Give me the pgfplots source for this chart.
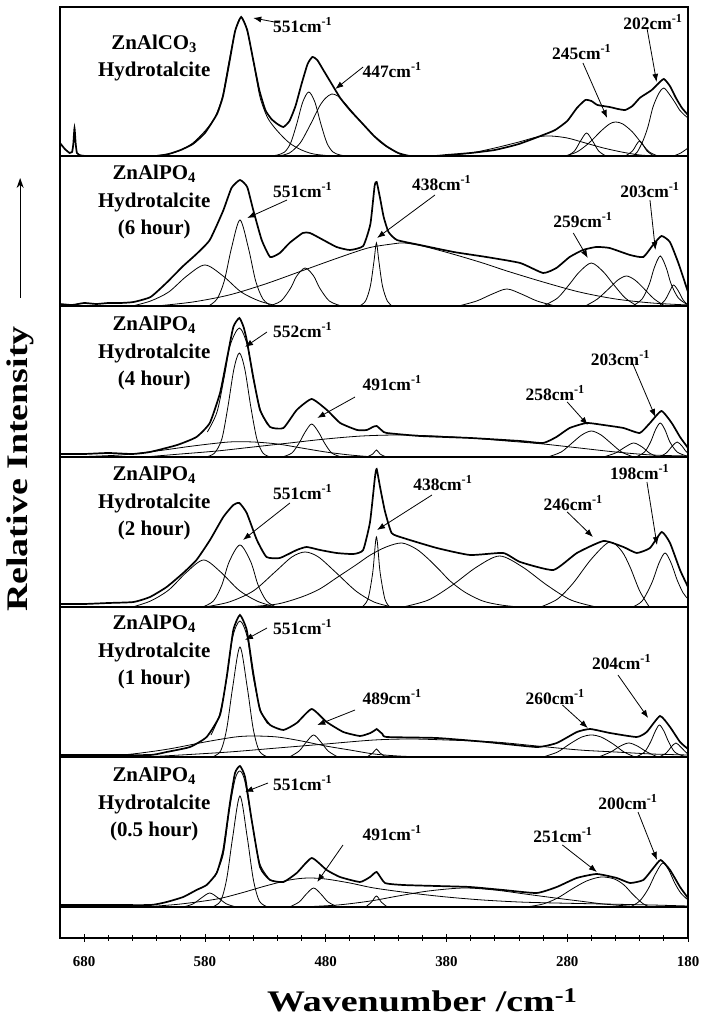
\documentclass[border=0pt]{standalone}
\usepackage{fontspec}
\setmainfont{Liberation Serif}
\usepackage{pgfplots}
\pgfplotsset{compat=1.18}
\usetikzlibrary{arrows.meta}

\pgfplotsset{
  comp/.style={black, line width=0.8bp, smooth, tension=0.5},
  meas/.style={black, line width=1.7bp, smooth, tension=0.3},
  fit/.style={black, line width=0.8bp, smooth, tension=0.5},
  base/.style={black, line width=2bp},
  P1/.style={y filter/.expression={y+782}},
  P2/.style={y filter/.expression={y+632}},
  P3/.style={y filter/.expression={y+481}},
  P4/.style={y filter/.expression={y+331}},
  P5/.style={y filter/.expression={y+181}},
  P6/.style={y filter/.expression={y+31}},
}
\tikzset{
  annot/.style={font=\fontsize{17.5}{20}\selectfont\bfseries},
  annarrow/.style={line width=0.8bp, -{Latex[length=8bp,width=6bp]}},
  plab/.style={align=center, font=\fontsize{21}{28}\selectfont\bfseries},
}
% text x, text y, label, arrow from x,y, arrow to x,y
\newcommand{\ann}[7]{%
  \node[annot] at (axis cs:#1,#2) {#3cm\textsuperscript{-1}};
  \draw[annarrow] (axis cs:#4,#5) -- (axis cs:#6,#7);}

\begin{document}
\begin{tikzpicture}
\begin{axis}[
  scale only axis, width=628bp, height=931bp,
  xmin=180, xmax=700, ymin=0, ymax=931,
  x dir=reverse,
  xtick={180,280,380,480,580,680},
  minor x tick num=4,
  xtick pos=bottom, ytick=\empty,
  tick align=center,
  major tick length=7bp, minor tick length=5bp,
  tick style={black, line width=0.8bp},
  axis line style={line width=1.2bp},
  /pgf/number format/assume math mode=true,
  xticklabel style={font=\fontsize{15}{18}\selectfont\bfseries, yshift=-12bp},
  clip=false,
]

% panel separators / baselines
\addplot[base] coordinates {(700,782) (180,782)};
\addplot[base] coordinates {(700,632) (180,632)};
\addplot[base] coordinates {(700,481) (180,481)};
\addplot[base] coordinates {(700,331) (180,331)};
\addplot[base] coordinates {(700,181) (180,181)};
\addplot[base] coordinates {(700,31) (180,31)};

% ---------------- ZnAlCO3 ----------------
\addplot[meas,P1] coordinates {(700,13) (696,7) (692,3) (690,4) (689,12) (688,28) (687,12) (686,3) (684,1) (678,0) (640,0) (620,0) (610,2) (600,6) (590,12) (580,23) (570,42) (565,60) (560,92) (555,125) (550,139) (545,126) (540,96) (535,66) (530,46) (525,37) (520,32) (515,29) (510,35) (505,50) (500,72) (495,92) (491,99) (487,96) (482,86) (475,72) (468,58) (460,46) (450,33) (440,20) (430,10) (420,3) (410,0) (390,0) (380,1) (360,3) (340,6) (320,12) (300,21) (290,26) (280,35) (272,48) (265,56) (260,55) (255,51) (245,49) (238,47) (232,46) (226,50) (220,58) (215,62) (210,66) (205,72) (200,77) (195,70) (190,58) (185,48) (180,41)};
\addplot[comp,P1] coordinates {(625,0) (610,2) (600,6) (590,13) (580,25) (572,38) (566,57) (563,75) (560,95) (555,125) (550,139) (545,125) (540,95) (537,75) (534,57) (528,38) (520,25) (510,13) (500,6) (490,2) (475,0)};
\addplot[comp,P1] coordinates {(526,0) (520,1) (514,4) (509,13) (504,32) (499,54) (494,64) (489,54) (484,32) (479,13) (474,4) (468,1) (462,0)};
\addplot[comp,P1] coordinates {(518,0) (510,3) (505,8) (500,15) (492,33) (485,50) (480,58) (475,62) (470,60) (465,54) (458,44) (450,33) (446,28) (440,20) (435,14) (425,6) (416,1) (405,0)};
\addplot[comp,P1] coordinates {(385,0) (360,3) (340,8) (320,14) (305,19) (294,20) (280,18) (265,13) (250,8) (235,4) (220,1) (205,0)};
\addplot[comp,P1] coordinates {(280,0) (274,5) (269,15) (264,23) (259,15) (254,5) (248,0)};
\addplot[comp,P1] coordinates {(282,0) (272,4) (262,13) (252,25) (245,32) (240,34) (234,32) (226,24) (218,12) (212,4) (205,0)};
\addplot[comp,P1] coordinates {(232,0) (226,5) (220,15) (214,5) (208,0)};
\addplot[comp,P1] coordinates {(226,0) (222,4) (217,16) (213,30) (209,49) (204,63) (200,68) (195,61) (190,52) (187,46) (183,41) (180,38)};
\addplot[comp,P1] coordinates {(192,0) (186,3) (180,8)};

% ---------------- ZnAlPO4 6 hour ----------------
\addplot[meas,P2] coordinates {(700,2) (690,1) (680,3) (670,2) (660,3) (650,3) (639,4) (625,9) (612,23) (598,40) (587,52) (576,66) (565,95) (558,118) (551,126) (545,119) (540,96) (533,66) (526,49) (518,53) (510,63) (499,73) (493,73) (482,66) (471,59) (460,56) (449,60) (443,82) (439.5,120) (437.8,124) (435,108) (432,89) (428,74) (421,66) (402,61) (374,54) (347,49) (319,43) (300,33) (289,38) (278,49) (267,56) (256,59) (245,58) (228,51) (217,49) (209,61) (202,70) (195,64) (188,43) (180,14)};
\addplot[comp,P2] coordinates {(640,0) (625,5) (610,14) (595,30) (580,41) (565,30) (550,14) (535,5) (520,0)};
\addplot[comp,P2] coordinates {(577,0) (570,7) (564,25) (558,58) (551,86) (544,58) (538,25) (532,7) (525,0)};
\addplot[comp,P2] coordinates {(527,0) (517,5) (509,18) (504,30) (497,38) (490,30) (485,18) (477,5) (467,0)};
\addplot[comp,P2] coordinates {(452,0) (447,5) (443,20) (440,45) (438,63) (436,45) (433,20) (429,5) (425,0)};
\addplot[comp,P2] coordinates {(620,0) (590,4) (560,11) (530,22) (500,35) (470,48) (445,58) (425,62) (415,63) (400,60) (375,52) (350,43) (330,35) (300,24) (270,14) (240,7) (210,3) (180,1)};
\addplot[comp,P2] coordinates {(370,0) (355,5) (342,12) (330,17) (318,12) (305,5) (290,0)};
\addplot[comp,P2] coordinates {(300,0) (288,8) (278,22) (270,34) (260,43) (250,34) (242,22) (232,8) (222,0)};
\addplot[comp,P2] coordinates {(265,0) (255,7) (245,18) (238,26) (231,30) (224,26) (217,18) (208,7) (199,0)};
\addplot[comp,P2] coordinates {(226,0) (218,7) (212,22) (208,38) (203,50) (198,38) (194,22) (188,8) (180,1)};
\addplot[comp,P2] coordinates {(204,0) (199,6) (195,15) (192,21) (188,15) (184,6) (180,1)};

% ---------------- ZnAlPO4 4 hour ----------------
\addplot[meas,P3] coordinates {(700,3) (680,3) (660,4) (640,3) (625.5,5) (603,12) (587,20) (576,34) (567.5,64) (562,97) (556.5,130) (551.5,139) (548,130) (545.4,117) (540,80) (534.4,47) (526,30) (515,29) (504,47) (491.6,58) (479,47) (468,34) (454,27) (446,27) (441,30) (437.8,31) (433,26) (429.5,24) (402,21) (360,19) (319,16) (300,14) (289,20) (278,29) (264,34) (250,32) (233.5,29) (220,24) (211.5,34) (202,46) (193.5,34) (186.6,20) (180,9)};
\addplot[fit,P3] coordinates {(578,25) (570,45) (564,80) (559,112) (551.5,129) (545,112) (540,78) (534,47) (528,32)};
\addplot[comp,P3] coordinates {(579,0) (572,4) (566,18) (561,50) (556,88) (551.5,104) (547,88) (542,50) (537,18) (532,4) (526,0)};
\addplot[comp,P3] coordinates {(516,0) (508,4) (502,14) (497,25) (491.6,33) (486,25) (481,14) (475,4) (467,0)};
\addplot[comp,P3] coordinates {(690,0) (650,2) (620,6) (590,11) (560,15) (540,15) (520,13) (500,9) (480,5) (460,2) (440,0)};
\addplot[comp,P3] coordinates {(630,0) (600,3) (570,6) (540,10) (510,14) (480,18) (450,21) (420,22) (390,21) (360,19) (330,16) (300,13) (270,9) (240,5) (210,2) (180,1)};
\addplot[comp,P3] coordinates {(446,0) (441,3) (438,7) (435,3) (430,0)};
\addplot[comp,P3] coordinates {(296,0) (285,5) (276,14) (268,22) (260,26) (252,22) (244,14) (235,5) (225,0)};
\addplot[comp,P3] coordinates {(250,0) (240,4) (232,10) (225,14) (218,10) (212,4) (205,0)};
\addplot[comp,P3] coordinates {(223,0) (216,5) (211,15) (207,27) (203,34) (199,27) (195,15) (189,5) (181,1)};
\addplot[comp,P3] coordinates {(204,0) (198,4) (193,11) (189,15) (185,11) (182,6) (180,4)};

% ---------------- ZnAlPO4 2 hour ----------------
\addplot[meas,P4] coordinates {(700,3) (680,3) (660,4) (639,5) (625.5,10) (611.7,20) (598,34) (587,47) (575.8,67) (564.8,90) (556.5,102) (551.5,104) (545.4,94) (537,67) (529,50) (518,49) (504,57) (495.8,60) (484.7,57) (471,54) (457,53) (449,57) (443.3,85) (439.2,130) (437.8,138) (435,120) (431,96) (425.4,74) (415.7,69) (388,59) (360.5,52) (333,54) (319,45) (291.5,37) (272,54) (250,66) (233.5,60) (222.5,54) (211.5,59) (201.8,75) (194.9,64) (186.6,37) (180,20)};
\addplot[comp,P4] coordinates {(640,0) (625,6) (610,17) (595,35) (581,47) (567,35) (552,17) (537,6) (522,0)};
\addplot[comp,P4] coordinates {(582,0) (573,6) (566,22) (560,45) (551,62) (542,45) (536,22) (529,6) (521,0)};
\addplot[comp,P4] coordinates {(580,0) (560,5) (540,16) (522,35) (508,50) (497,55) (486,50) (472,35) (455,16) (440,5) (425,0)};
\addplot[comp,P4] coordinates {(450,0) (445,8) (441,35) (438,70) (435,35) (431,8) (427,0)};
\addplot[comp,P4] coordinates {(545,0) (520,3) (500,10) (485,18) (470,30) (455,42) (443,52) (430,60) (417,64) (405,58) (395,48) (385,36) (377,26) (365,15) (350,6) (335,2) (320,0)};
\addplot[comp,P4] coordinates {(416,0) (395,7) (375,22) (355,40) (336,51) (317,40) (297,22) (277,7) (256,0)};
\addplot[comp,P4] coordinates {(302,0) (288,8) (275,24) (260,48) (245,65) (235,56) (228,40) (220,16) (212,0)};
\addplot[comp,P4] coordinates {(226,0) (218,6) (210,24) (204,44) (199,54) (194,44) (189,27) (184,14) (180,8)};

% ---------------- ZnAlPO4 1 hour ----------------
\addplot[meas,P5] coordinates {(700,2) (660,2) (625,2) (611.7,5) (592.4,10) (578.6,20) (567.5,42) (562,80) (556.5,127) (551,142) (545.4,127) (540,84) (534.4,47) (526,32) (515,27) (504,34) (491.6,48) (479.2,35) (465.4,25) (451.6,21) (443,24) (439,27) (437.8,28) (433,23) (429.5,20) (388,19) (346.7,15) (305.3,10) (288.7,14) (272,25) (261,28) (244.6,24) (222.5,20) (214.2,25) (203.2,41) (194.9,30) (186.6,15) (180,8)};
\addplot[fit,P5] coordinates {(575,22) (568,42) (562,78) (557,120) (551,136) (545,120) (540,80) (534,47) (528,33)};
\addplot[comp,P5] coordinates {(574,0) (567,6) (562,28) (557,70) (551,110) (545,70) (540,28) (535,6) (528,0)};
\addplot[comp,P5] coordinates {(670,0) (640,3) (610,8) (580,15) (555,20) (540,21) (520,20) (500,16) (480,11) (460,7) (440,3) (420,1) (400,0)};
\addplot[comp,P5] coordinates {(630,0) (600,2) (560,5) (520,9) (480,13) (440,17) (410,18) (380,17) (340,15) (305,11) (270,7) (240,5) (210,3) (180,2)};
\addplot[comp,P5] coordinates {(510,0) (502,6) (496,15) (490,22) (484,15) (478,6) (470,0)};
\addplot[comp,P5] coordinates {(446,0) (441,4) (438,8) (435,4) (430,0)};
\addplot[comp,P5] coordinates {(300,0) (288,5) (278,13) (268,20) (260,22) (252,20) (242,13) (233,5) (224,0)};
\addplot[comp,P5] coordinates {(254,0) (244,5) (236,11) (229,14) (222,11) (214,5) (205,0)};
\addplot[comp,P5] coordinates {(223,0) (216,5) (211,15) (207,26) (203.7,32) (200,26) (196,15) (191,5) (184,1) (180,0)};
\addplot[comp,P5] coordinates {(204,0) (198,4) (194,10) (190,14) (186,10) (182,5) (180,3)};

% ---------------- ZnAlPO4 0.5 hour ----------------
\addplot[meas,P6] coordinates {(700,2) (660,2) (625,2) (611.7,5) (598,10) (587,17) (578.6,22) (570.3,34) (564.8,57) (559.3,104) (555.1,134) (551,141) (546.8,130) (541.3,87) (534.4,40) (526,27) (515,25) (504,34) (491.6,49) (479.2,37) (468.2,30) (451.6,25) (443.3,30) (437.8,35) (430.9,24) (415.7,22) (388.1,21) (360.5,20) (333,17) (305.3,14) (288.7,20) (272.2,29) (255.6,33) (239,29) (228,24) (217,27) (208.7,39) (202.6,47) (194.9,37) (186.6,20) (180,9)};
\addplot[fit,P6] coordinates {(572,30) (565,52) (560,95) (555,128) (551,136) (547,126) (541,85) (535,45) (528,30)};
\addplot[comp,P6] coordinates {(574,0) (567,6) (562,28) (557,70) (551,111) (545,70) (540,28) (535,6) (528,0)};
\addplot[comp,P6] coordinates {(598,0) (590,3) (583,9) (576,14) (569,9) (562,3) (554,0)};
\addplot[comp,P6] coordinates {(630,0) (600,3) (570,8) (550,14) (530,21) (510,27) (495,29) (480,28) (460,24) (440,19) (410,14) (380,10) (350,7) (320,5) (290,4) (250,3) (210,2) (180,1)};
\addplot[comp,P6] coordinates {(500,0) (470,2) (443,6) (420,11) (395,16) (366,19) (340,17) (315,13) (290,9) (270,6) (250,3) (230,1) (215,0)};
\addplot[comp,P6] coordinates {(510,0) (502,5) (496,13) (490,19) (484,13) (478,5) (470,0)};
\addplot[comp,P6] coordinates {(447,0) (442,5) (438,11) (434,5) (429,0)};
\addplot[comp,P6] coordinates {(314,0) (300,3) (288,9) (276,18) (264,26) (252,30) (241,28) (233,22) (226,13) (218,4) (212,0)};
\addplot[comp,P6] coordinates {(228,0) (220,6) (213,18) (207,33) (201,44) (196,37) (191,24) (186,14) (180,7)};

% panel labels
\node[plab] at (axis cs:622,880) {ZnAlCO\textsubscript{3}\\Hydrotalcite};
\node[plab] at (axis cs:622,736) {ZnAlPO\textsubscript{4}\\Hydrotalcite\\(6 hour)};
\node[plab] at (axis cs:622,585) {ZnAlPO\textsubscript{4}\\Hydrotalcite\\(4 hour)};
\node[plab] at (axis cs:622,435) {ZnAlPO\textsubscript{4}\\Hydrotalcite\\(2 hour)};
\node[plab] at (axis cs:622,286) {ZnAlPO\textsubscript{4}\\Hydrotalcite\\(1 hour)};
\node[plab] at (axis cs:622,134) {ZnAlPO\textsubscript{4}\\Hydrotalcite\\(0.5 hour)};

% peak annotations
\ann{499}{913}{551}{518}{915}{540}{920}
\ann{425}{868}{447}{449}{871}{472}{849}
\ann{268}{886}{245}{267}{875}{247}{820}
\ann{209}{916}{202}{214}{910}{206}{856}
\ann{499}{748}{551}{512}{738}{545}{720}
\ann{384}{755}{438}{389.5}{743}{437.5}{700}
\ann{267}{718}{259}{275}{705}{263}{680}
\ann{211.5}{748}{203}{211.5}{738}{207}{688}
\ann{499}{608}{552}{528.6}{606}{546.8}{591}
\ann{425}{555}{491}{455.7}{541}{487}{520}
\ann{290}{545}{258}{280}{536}{263}{513}
\ann{236}{580}{203}{226}{575}{207}{521}
\ann{499}{446}{551}{509.6}{435}{548.5}{398}
\ann{383}{455}{438}{392}{443}{437.5}{408}
\ann{275}{435}{246}{280}{426}{258.7}{401}
\ann{220}{466}{198}{214}{456}{205.7}{393}
\ann{499}{311}{551}{528.6}{310}{546.8}{298}
\ann{425}{241}{489}{455.7}{228}{487}{213}
\ann{290}{241}{260}{284}{233}{263}{210}
\ann{235}{276}{204}{238}{263}{213}{220}
\ann{499}{155}{551}{527.8}{155}{546.8}{146}
\ann{425}{105}{491}{465.7}{93}{487}{56}
\ann{283.5}{103}{251}{284}{93}{255.4}{66}
\ann{229.7}{136}{200}{221.4}{126}{205.7}{78}

% axis titles
\node[font=\fontsize{30}{34}\selectfont\bfseries] at (axis cs:400,-62) {\scalebox{1.27}[1]{Wavenumber /cm\textsuperscript{-1}}};
\node[font=\fontsize{30}{34}\selectfont\bfseries, rotate=90] at (axis cs:733,469) {\scalebox{1.27}[1]{Relative Intensity}};
\draw[line width=1.2bp, -{Stealth[length=10bp,width=7bp]}] (axis cs:733,640) -- (axis cs:733,760);

% page extent
\path (axis cs:749.7,938) rectangle (axis cs:169.3,-86);
\end{axis}
\end{tikzpicture}
\end{document}
